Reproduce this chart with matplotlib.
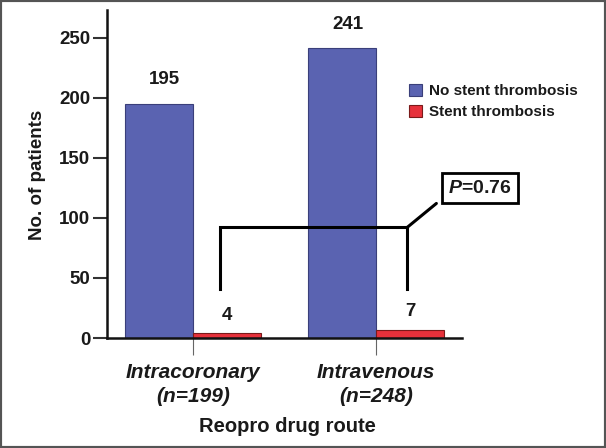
import matplotlib
matplotlib.use("Agg")
import matplotlib.pyplot as plt
from matplotlib.patches import Rectangle
import numpy as np

plt.rcParams['font.family'] = ['Liberation Sans', 'DejaVu Sans']
plt.rcParams['mathtext.fontset'] = 'custom'
plt.rcParams['mathtext.it'] = 'Liberation Sans:italic:bold'
plt.rcParams['mathtext.rm'] = 'Liberation Sans:bold'

routes = ["Intracoronary", "Intravenous"]
route_n = ["(n=199)", "(n=248)"]
series_names = ["No stent thrombosis", "Stent thrombosis"]
no_thrombosis = [195, 241]
thrombosis = [4, 7]
p_value_text = "=0.76"
y_ticks = [0, 50, 100, 150, 200, 250]

blue = "#5a63b1"
red = "#e6313b"

fig = plt.figure(figsize=(6.06, 4.48), dpi=100)
ax = fig.add_axes([107/606, 1-338/448, (462-107)/606, (338-10)/448])

x = np.arange(len(routes))
w = 0.372
ax.bar(x - w/2, no_thrombosis, width=w, color=blue, edgecolor="#3a3f7a", linewidth=0.8,
       label=series_names[0], zorder=2)
ax.bar(x + w/2, thrombosis, width=w, color=red, edgecolor="#7a1a1a", linewidth=0.8,
       label=series_names[1], zorder=2)

# value labels
for xi, v in zip(x, no_thrombosis):
    ax.text(xi - w/2 + 0.03, v + 20, str(v), ha="center", va="center",
            fontsize=13.5, fontweight="bold", color="#1a1a1a")
for xi, v in zip(x, thrombosis):
    ax.text(xi + w/2, v + 15, str(v), ha="center", va="center",
            fontsize=13.5, fontweight="bold", color="#1a1a1a")

ax.set_xlim(-0.47, 1.47)
ax.set_ylim(0, 273)
ax.set_yticks(y_ticks)
ax.set_yticklabels([str(t) for t in y_ticks], fontsize=13.5, fontweight="bold", color="#1a1a1a")
ax.set_xticks(x)
ax.set_xticklabels([f"{r}\n{n}" for r, n in zip(routes, route_n)], fontsize=15,
                   fontweight="bold", style="italic", color="#1a1a1a", linespacing=1.35)
ax.tick_params(axis="y", length=10, width=1.5, color="#333333", pad=2)
ax.tick_params(axis="x", length=12, width=0.8, color="#666666", pad=6)

for s in ["top", "right"]:
    ax.spines[s].set_visible(False)
for s in ["left", "bottom"]:
    ax.spines[s].set_linewidth(1.8)
    ax.spines[s].set_color("#111111")

ax.set_ylabel("No. of patients", fontsize=13.5, fontweight="bold", color="#1a1a1a")
ax.yaxis.set_label_coords(38/606, 1-175/448, transform=fig.transFigure)
ax.set_xlabel("Reopro drug route", fontsize=14.5, fontweight="bold", color="#1a1a1a")
ax.xaxis.set_label_coords(287/606, 1-426/448, transform=fig.transFigure)
ax.xaxis.label.set_va("center")
ax.yaxis.label.set_va("center")

# significance bracket
xl, xr = 0.148, 1.17
ax.plot([xl, xl, xr, xr], [41, 92, 92, 41], color="black", lw=2.2, zorder=3,
        solid_joinstyle="miter", clip_on=False)
ax.annotate("", xy=(xr, 92), xytext=(1.33, 112), xycoords="data",
            arrowprops=dict(arrowstyle="-", color="black", lw=2.2, shrinkA=0, shrinkB=0))
fig.text(480/606, 1-188/448, r"$\mathit{P}$" + p_value_text, ha="center", va="center",
         fontsize=14, fontweight="bold", color="#1a1a1a",
         bbox=dict(boxstyle="square,pad=0.33", facecolor="white", edgecolor="black", linewidth=2))

leg = ax.legend(loc="upper left", bbox_to_anchor=(403/606, 1-78/448), bbox_transform=fig.transFigure,
                frameon=False, prop=dict(size=11, weight="bold"), handlelength=0.85,
                handleheight=0.85, handletextpad=0.45, labelspacing=0.4, borderaxespad=0)
for t in leg.get_texts():
    t.set_color("#1a1a1a")

fig.patches.append(Rectangle((0, 0), 1, 1, transform=fig.transFigure, fill=False,
                             edgecolor="#555555", linewidth=3, zorder=10))

fig.savefig("out.png", dpi=100)
